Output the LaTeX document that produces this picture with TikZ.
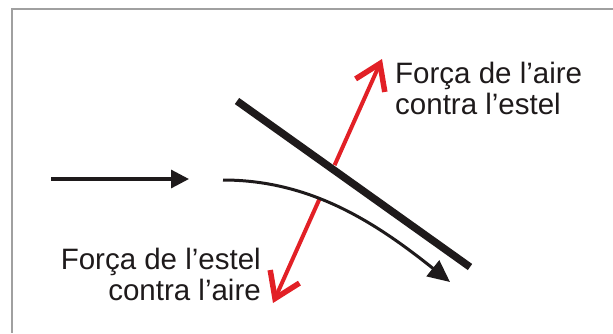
\documentclass[tikz,border=0pt]{standalone}
\usepackage{fontspec}
\setmainfont{Liberation Sans}
\usetikzlibrary{arrows.meta,calc}
\definecolor{framegray}{RGB}{160,160,160}
\definecolor{forcered}{RGB}{226,32,38}
\definecolor{inkblack}{RGB}{30,26,27}
\begin{document}
\begin{tikzpicture}[x=1bp,y=-1bp,
  framestyle/.style={draw=framegray,line width=1.6bp},
  windarrow/.style={draw=inkblack,line width=3.2bp,-{Triangle[length=18bp,width=18bp]}},
  flowarrow/.style={draw=inkblack,line width=3bp,-{Triangle[length=22bp,width=20bp]}},
  kiteline/.style={draw=inkblack,line width=7.5bp,line cap=butt},
  forcearrow/.style={draw=forcered,line width=4bp,-{Straight Barb[length=24bp,width=32bp,line width=5.5bp]}},
  lbl/.style={inner sep=0pt,text=inkblack,font=\fontsize{29.5bp}{31bp}\selectfont}]
\useasboundingbox (0,0) rectangle (613,333);
% frame
\coordinate (fc) at (12,9);
\coordinate (fr) at (613,9);
\coordinate (fb) at (12,333);
\draw[framestyle] (fr) -- (fc) -- (fb);
% red force arrow (drawn under the kite)
\coordinate (rb) at (273,303);
\coordinate (rt) at (382,59);
\coordinate (rlo) at ($(rb)!0.43!(rt)$);
\coordinate (rhi) at ($(rb)!0.565!(rt)$);
\draw[forcearrow] (rhi) -- (rt);
\draw[forcearrow] (rlo) -- (rb);
% incoming wind
\coordinate (w0) at (51,179);
\coordinate (w1) at (189,179);
\draw[windarrow] (w0) -- (w1);
% deflected flow
\coordinate (d0) at (223,180);
\coordinate (d1) at (450,282);
\draw[flowarrow] (d0) .. controls (310,180) and (375,222) .. (d1);
% kite
\coordinate (k0) at (237,101);
\coordinate (k1) at (470,267);
\draw[kiteline] (k0) -- (k1);
% labels
\node[lbl,anchor=base west] (upA) at (395,83) {Força de l’aire};
\node[lbl,anchor=base west] (upB) at (395,114) {contra l’estel};
\node[lbl,anchor=base east] (loA) at (261,269) {Força de l’estel};
\node[lbl,anchor=base east] (loB) at (261,300) {contra l’aire};
\end{tikzpicture}
\end{document}
